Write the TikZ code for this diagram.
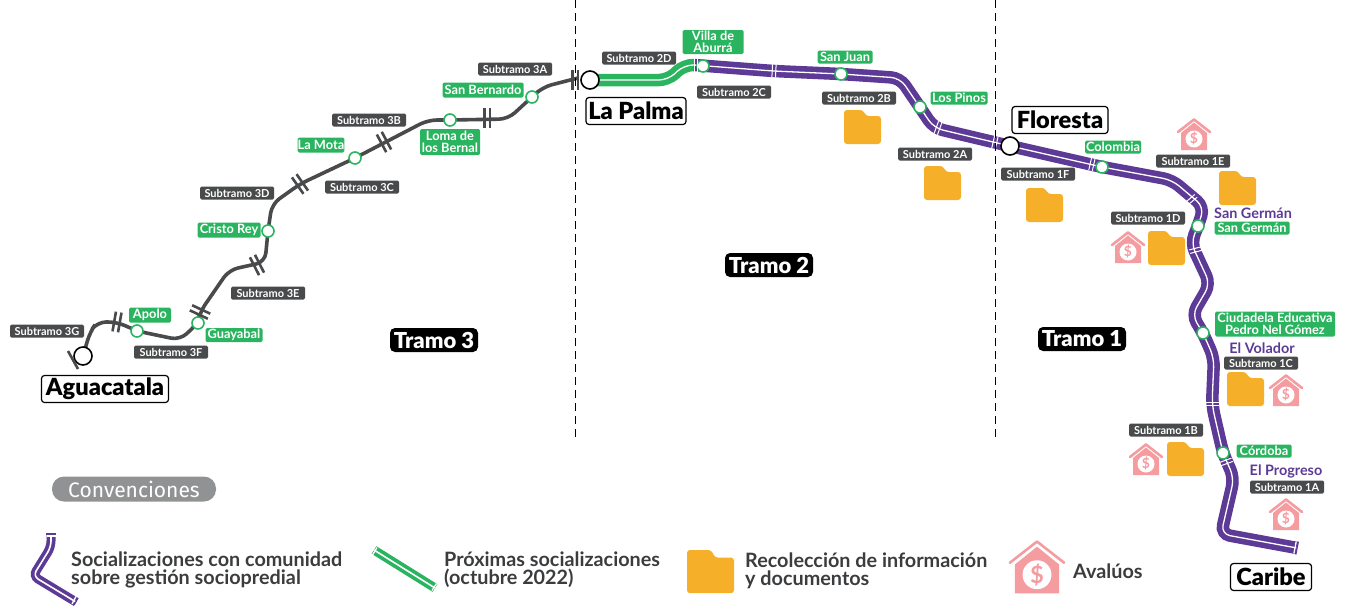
\documentclass[tikz,border=0pt]{standalone}
\usepackage{fontspec}
\setmainfont{Lato}
\newfontfamily\dinfont{Fira Sans}
\newfontfamily\heavy{Lato Black}
\definecolor{purp}{HTML}{5C3A96}
\definecolor{grn}{HTML}{2BB45F}
\definecolor{dk}{HTML}{484A4B}
\definecolor{fold}{HTML}{F5AF28}
\definecolor{pink}{HTML}{F59CA1}
\definecolor{legtxt}{HTML}{3A3C3E}
\pgfdeclarelayer{bg}
\pgfsetlayers{bg,main}
\tikzset{
  x=1pt,y=-1pt,
  lab/.style={rounded corners=1.5pt,text=white,inner sep=0pt,minimum height=13pt,align=center},
  sub/.style={lab,fill=dk,minimum width=74pt,font=\bfseries\fontsize{11}{11}\selectfont},
  gst/.style={lab,fill=grn,font=\bfseries\fontsize{12.8}{12}\selectfont},
  pname/.style={text=purp,font=\bfseries\fontsize{14.4}{14}\selectfont,inner sep=0pt},
  stn/.style={circle,draw=grn,fill=white,line width=1.6pt,minimum size=12pt,inner sep=0pt},
  term/.style={circle,draw=black,fill=white,line width=1.6pt,minimum size=18pt,inner sep=0pt},
  tlab/.style={draw=black,fill=white,rounded corners=3pt,line width=1.2pt,text=black,font=\heavy\fontsize{23.6}{23.6}\selectfont,inner sep=0pt,minimum height=27pt},
  tramo/.style={fill=black,text=white,rounded corners=5pt,font=\heavy\fontsize{22}{22}\selectfont,inner sep=0pt,minimum height=24pt,minimum width=88pt},
  leg/.style={text=legtxt,font=\bfseries\fontsize{19.8}{18}\selectfont,inner sep=0pt,align=left,anchor=west},
  gline/.style={draw=dk,line width=3.6pt,rounded corners=9pt},
  pline/.style={preaction={draw=purp,line width=12.5pt},draw=white,line width=1.3pt,rounded corners=9pt},
  gnline/.style={preaction={draw=grn,line width=12.5pt},draw=white,line width=1.3pt,rounded corners=9pt},
  plineleg/.style={preaction={draw=purp,line width=9pt},draw=white,line width=1.6pt,rounded corners=6pt},
  gnlineleg/.style={preaction={draw=grn,line width=9pt},draw=white,line width=1.6pt},
  sep/.style={draw=black,line width=1pt,dash pattern=on 8pt off 5pt},
  gtick/.pic={\draw[dk,line width=2.6pt] (-2.8,-10)--(-2.8,10) (2.8,-10)--(2.8,10);},
  wtick/.pic={\draw[white,line width=1pt] (-1.8,-6.5)--(-1.8,6.5) (1.8,-6.5)--(1.8,6.5);},
  endcap/.pic={\draw[white,line width=1.3pt] (-2,-6)--(-2,6); \draw[purp,line width=1.4pt] (0,-6.5)--(0,6.5);},
  folder/.pic={\fill[fold,rounded corners=3pt] (0,0)--(19,0)--(22,6)--(37,6)--(37,34)--(0,34)--cycle;},
  house/.pic={
    \fill[pink] (-13,15)--(0,4.5)--(13,15)--(13,32)--(-13,32)--cycle;
    \draw[pink,line width=2.6pt,line cap=round,line join=round] (-16,14)--(0,1.5)--(16,14);
    \fill[white] (0,21) circle (8.5);
    \node[text=pink,font=\bfseries\fontsize{14}{14}\selectfont,inner sep=0pt,transform shape] (d) at (0,21) {\$};
  }
}
\begin{document}
\begin{tikzpicture}
\useasboundingbox (0,0) rectangle (1346,605);
% stations
\node[term] (agua) at (83,356) {};
\node[term] (palma) at (590,80) {};
\node[term] (flor) at (1010,146) {};
\node[stn] (sApolo) at (137,331) {};
\node[stn] (sGuay) at (198,323) {};
\node[stn] (sCristo) at (268,231) {};
\node[stn] (sMota) at (355,158) {};
\node[stn] (sLoma) at (450,120) {};
\node[stn] (sBern) at (532,97) {};
\node[stn] (sVilla) at (703,66) {};
\node[stn] (sJuan) at (841,74) {};
\node[stn] (sPinos) at (920,107) {};
\node[stn] (sColo) at (1102,167) {};
\node[stn] (sGerman) at (1198,226) {};
\node[stn] (sCiud) at (1203,333) {};
\node[stn] (sCord) at (1223,453) {};
% free way points
\coordinate (w0) at (90,332);
\coordinate (w1) at (97,322);
\coordinate (w1b) at (117,322);
\coordinate (w2) at (180,340);
\coordinate (w3) at (200,312);
\coordinate (w4) at (229,270);
\coordinate (w5) at (265,262);
\coordinate (w6) at (272,204);
\coordinate (w7) at (300,184);
\coordinate (w8) at (428,120);
\coordinate (w9) at (508,119);
\coordinate (w10) at (543,87);
\coordinate (gE) at (578,78);
\coordinate (v1) at (668,80);
\coordinate (v2) at (684,65);
\coordinate (v3) at (694,65);
\coordinate (p1) at (773,71);
\coordinate (p2) at (900,78);
\coordinate (p3) at (934,128);
\coordinate (p4) at (1172,180);
\coordinate (p5) at (1204,207);
\coordinate (p6) at (1191,243);
\coordinate (p7) at (1210,284);
\coordinate (p8) at (1192,315);
\coordinate (p8b) at (1214,358);
\coordinate (p9) at (1212,405);
\coordinate (p10) at (1234,478);
\coordinate (p11) at (1221,534);
\coordinate (carE) at (1297,548);
\coordinate (l1) at (51,534);
\coordinate (l2) at (51,547);
\coordinate (l3) at (33,576);
\coordinate (l4) at (76,602);
\coordinate (l5) at (374,550);
\coordinate (l6) at (435,588);
\begin{pgfonlayer}{bg}
\draw[gline] (agua.center)--(w0)--(w1)--(w1b)--(sApolo.center)--(w2)--(sGuay.center)--(w3)--(w4)--(w5)--(sCristo.center)--(w6)--(w7)--(sMota.center)--(w8)--(sLoma.center)--(w9)--(sBern.center)--(w10)--(gE);
\draw[gnline] (palma.center)--(v1)--(v2)--(v3);
\draw[pline] (v3)--(p1)--(sJuan.center)--(p2)--(p3)--(flor.center)--(sColo.center)--(p4)--(p5)--(sGerman.center)--(p6)--(p7)--(p8)--(sCiud.center)--(p8b)--(p9)--(sCord.center)--(p10)--(p11)--(carE);
\draw[plineleg] (l1)--(l2)--(l3)--(l4);
\draw[gnlineleg] (l5)--(l6);
\end{pgfonlayer}
% ticks
\pic[rotate=-10] at (117,322) {gtick};
\pic[rotate=65] at (200,312) {gtick};
\pic[rotate=27] at (257,265) {gtick};
\pic[rotate=35] at (300,184) {gtick};
\pic[rotate=28] at (384,142) {gtick};
\pic[rotate=0] at (487,118) {gtick};
\pic[rotate=0] at (575,80) {gtick};
\draw[dk,line width=2.6pt] (68,351)--(78,369);
\pic[rotate=0] at (696,65) {wtick};
\pic[rotate=-3] at (774,71) {wtick};
\pic[rotate=-20] at (938,128) {wtick};
\pic[rotate=-13] at (995,142) {wtick};
\pic[rotate=-13] at (1092,164) {wtick};
\pic[rotate=-50] at (1191,200) {wtick};
\pic[rotate=-75] at (1196,250) {wtick};
\pic[rotate=-90] at (1212,404) {wtick};
\pic[rotate=-70] at (1226,462) {wtick};
\pic[rotate=-11] at (1297,548) {endcap};
% legend line ends
\draw[white,line width=1.3pt] (46.5,536)--(55.5,536);
\draw[purp,line width=1.3pt] (46,534)--(56,534);
\draw[white,line width=1.3pt] (72,604)--(76,596.5);
\draw[purp,line width=1.3pt] (74,605)--(78,598);
\draw[white,line width=1.3pt] (372.5,555)--(377,547.5);
\draw[white,line width=1.3pt] (432,590.5)--(436.5,583.5);
% dashed separators
\coordinate (d1a) at (575,0); \coordinate (d1b) at (575,437);
\coordinate (d2a) at (995,0); \coordinate (d2b) at (995,437);
\draw[sep] (d1a)--(d1b);
\draw[sep] (d2a)--(d2b);
% labels
\node[sub] (n3G) at (47,331) {Subtramo 3G};
\node[gst,minimum width=42pt,minimum height=15pt] (nApolo) at (150,315) {Apolo};
\node[gst,minimum width=57pt,minimum height=14pt] (nGuay) at (234,335) {Guayabal};
\node[sub] (n3F) at (171,352) {Subtramo 3F};
\node[sub] (n3E) at (268,293) {Subtramo 3E};
\node[gst,minimum width=63pt,minimum height=15pt] (nCristo) at (229,230) {Cristo Rey};
\node[sub] (n3D) at (237,193) {Subtramo 3D};
\node[gst,minimum width=45pt,minimum height=15pt] (nMota) at (321,145) {La Mota};
\node[sub] (n3C) at (362,187) {Subtramo 3C};
\node[sub] (n3B) at (369,120) {Subtramo 3B};
\node[gst,minimum width=60pt,minimum height=26pt] (nLoma) at (450,142) {Loma de\\los Bernal};
\node[gst,minimum width=81pt,minimum height=15pt] (nBern) at (483,90) {San Bernardo};
\node[sub] (n3A) at (515,69) {Subtramo 3A};
\node[sub] (n2D) at (639,58) {Subtramo 2D};
\node[gst,minimum width=61pt,minimum height=24pt] (nVilla) at (713,42) {Villa de\\Aburrá};
\node[sub] (n2C) at (734,92) {Subtramo 2C};
\node[gst,minimum width=55pt] (nJuan) at (845,57) {San Juan};
\node[sub] (n2B) at (859,98) {Subtramo 2B};
\node[gst,minimum width=57pt] (nPinos) at (959,98) {Los Pinos};
\node[sub] (n2A) at (935,154) {Subtramo 2A};
\node[gst,minimum width=56pt] (nColo) at (1113,147) {Colombia};
\node[sub] (n1E) at (1193,161) {Subtramo 1E};
\node[sub] (n1F) at (1038,174) {Subtramo 1F};
\node[sub] (n1D) at (1148,218) {Subtramo 1D};
\node[pname] (pGerman) at (1253,213) {San Germán};
\node[gst,minimum width=75pt] (nGerman) at (1252,228) {San Germán};
\node[gst,minimum width=120pt,minimum height=25pt] (nCiud) at (1275,324) {Ciudadela Educativa\\Pedro Nel Gómez};
\node[pname] (pVol) at (1262,348) {El Volador};
\node[sub] (n1C) at (1261,363) {Subtramo 1C};
\node[sub] (n1B) at (1166,430) {Subtramo 1B};
\node[gst,minimum width=55pt] (nCord) at (1264,451) {Córdoba};
\node[pname] (pProg) at (1286,471) {El Progreso};
\node[sub] (n1A) at (1287,487) {Subtramo 1A};
\node[tlab,minimum width=127pt] (tAgua) at (105,389) {Aguacatala};
\node[tlab,minimum width=100pt] (tPalma) at (636,111) {La Palma};
\node[tlab,minimum width=96pt] (tFlor) at (1060,120) {Floresta};
\node[tlab,minimum width=81pt] (tCar) at (1271,577) {Caribe};
\node[tramo] (t3) at (434,340) {Tramo 3};
\node[tramo] (t2) at (769,265) {Tramo 2};
\node[tramo] (t1) at (1082,339) {Tramo 1};
% icons
\pic at (844,110) {folder};
\pic at (924,166) {folder};
\pic at (1026,188) {folder};
\pic at (1219,171) {folder};
\pic at (1148,231) {folder};
\pic at (1227,372) {folder};
\pic at (1167,442) {folder};
\pic[scale=1.27] at (687,550) {folder};
\pic (h1) at (1194,118) {house};
\pic (h2) at (1128,231) {house};
\pic (h3) at (1286,374) {house};
\pic (h4) at (1146,443) {house};
\pic (h5) at (1286,498) {house};
\pic[scale=1.7] (h6) at (1037,539) {house};
% legend
\node[fill=dk!60,rounded corners=12pt,minimum width=164pt,minimum height=25pt,inner sep=0pt,text=white,font=\dinfont\fontsize{21}{21}\selectfont] (conv) at (134,489) {Convenciones};
\node[leg] (l1t) at (71,570) {Socializaciones con comunidad\\sobre gestión sociopredial};
\node[leg] (l2t) at (444,570) {Próximas socializaciones\\(octubre 2022)};
\node[leg] (l3t) at (745,571) {Recolección de información\\y documentos};
\node[leg] (l4t) at (1073,571) {Avalúos};
\end{tikzpicture}
\end{document}
